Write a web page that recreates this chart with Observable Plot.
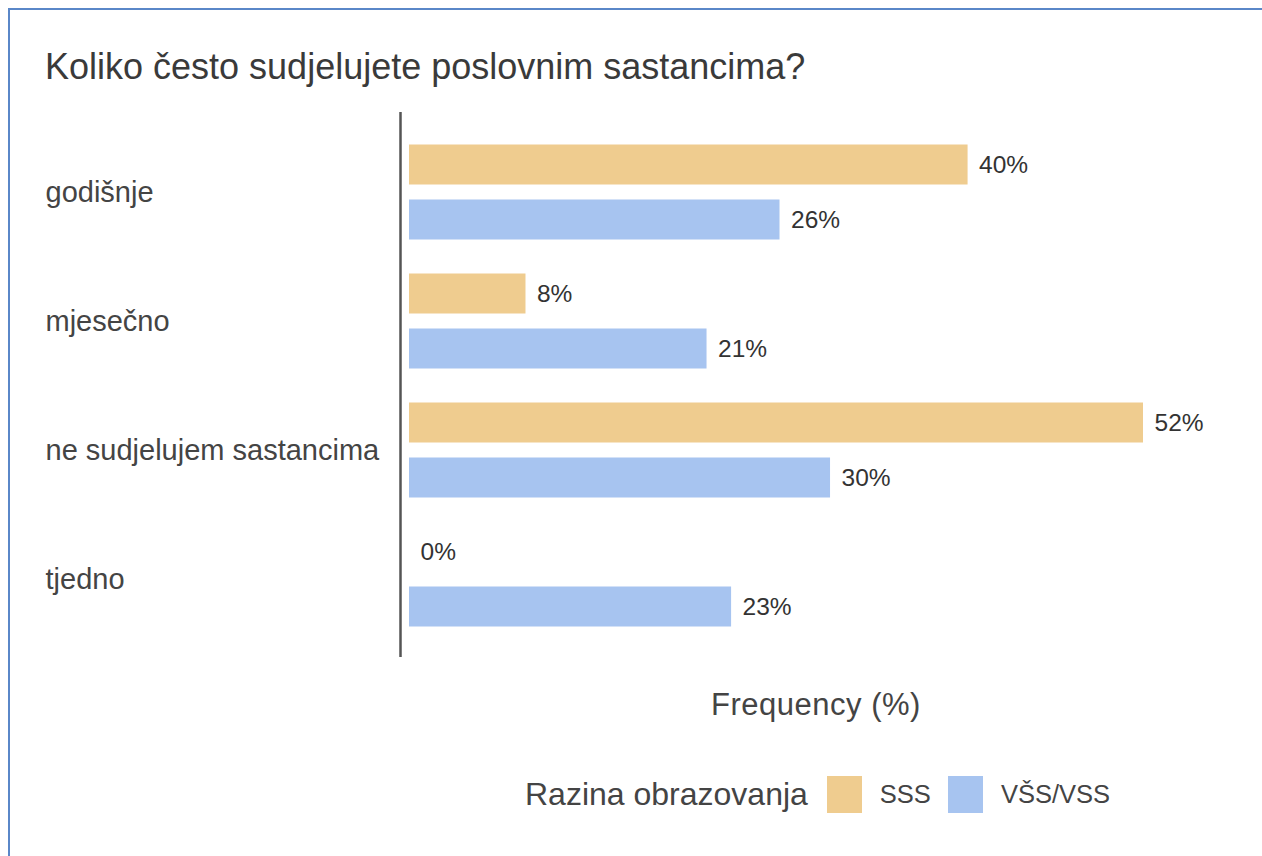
<!DOCTYPE html>
<html>
<head>
<meta charset="utf-8">
<script src="https://cdn.jsdelivr.net/npm/d3@7"></script>
<script src="https://cdn.jsdelivr.net/npm/@observablehq/plot@0.6"></script>
<style>
  html, body { margin: 0; padding: 0; background: #fff; }
  body { font-family: "Liberation Sans", Arial, sans-serif; }
  #page { position: relative; width: 1262px; height: 856px; overflow: hidden; background: #fff; }
  #border { position: absolute; left: 8px; top: 8px; width: 1300px; height: 900px;
            border-top: 2px solid #5a87c8; border-left: 2px solid #5a87c8; }
  #title { position: absolute; left: 45px; top: 44px; font-size: 36px; color: #3a3a3a; white-space: nowrap; line-height: 46px; }
  #chart { position: absolute; left: 0; top: 0; }
  #xlabel { position: absolute; left: 516px; width: 600px; top: 685px; text-align: center;
            font-size: 31px; color: #444; line-height: 40px; letter-spacing: 0.5px; }
  #legend { position: absolute; left: 525px; top: 775px; height: 38px; display: flex; align-items: center;
            color: #444; white-space: nowrap; }
  #legend .ltitle { font-size: 32px; margin-right: 19px; }
  #legend .sw { width: 35px; height: 37px; margin-right: 18px; flex: none; }
  #legend .item { font-size: 25.5px; margin-right: 17px; }
</style>
</head>
<body>
<div id="page">
  <div id="border"></div>
  <div id="title"></div>
  <div id="chart"></div>
  <div id="xlabel"></div>
  <div id="legend"></div>
</div>
<script>
const titleText = "Koliko često sudjelujete poslovnim sastancima?";
const categories = ["godišnje", "mjesečno", "ne sudjelujem sastancima", "tjedno"];
const seriesNames = ["SSS", "VŠS/VSS"];
const sssValues = [39.8, 8.3, 52.3, 0];
const vssValues = [26.4, 21.2, 30.0, 22.95];
const seriesColors = ["#efcc8f", "#a7c4f0"];
const xLabel = "Frequency (%)";
const legendTitle = "Razina obrazovanja";

const sss = categories.map((c, i) => ({category: c, value: sssValues[i]}));
const vss = categories.map((c, i) => ({category: c, value: vssValues[i]}));
const fmt = d => Math.round(d.value) + "%";

const chart = Plot.plot({
  width: 1262,
  height: 680,
  marginLeft: 400,
  marginRight: 39,
  marginTop: 112,
  marginBottom: 23,
  style: {fontFamily: '"Liberation Sans", Arial, sans-serif', background: "transparent", overflow: "visible"},
  x: {domain: [0, 58], insetLeft: 9, axis: null},
  y: {domain: categories, paddingInner: 0, paddingOuter: 0.0962, axis: null},
  marks: [
    Plot.axisY({tickSize: 0, tickPadding: 0, textAnchor: "start", dx: -355, dy: 1, fontSize: 29, fill: "#444", label: null}),
    Plot.barX(sss, {x: "value", y: "category", fill: seriesColors[0], insetTop: 17.5, insetBottom: 71.5}),
    Plot.barX(vss, {x: "value", y: "category", fill: seriesColors[1], insetTop: 72.5, insetBottom: 16.5}),
    Plot.text(sss, {x: "value", y: "category", text: fmt, dx: 11, dy: -27, textAnchor: "start", fontSize: 24.5, fill: "#333"}),
    Plot.text(vss, {x: "value", y: "category", text: fmt, dx: 11, dy: 28, textAnchor: "start", fontSize: 24.5, fill: "#333"}),
    Plot.ruleX([0], {dx: -9, stroke: "#555", strokeWidth: 2.5})
  ]
});
document.getElementById("chart").appendChild(chart);
document.getElementById("title").textContent = titleText;
document.getElementById("xlabel").textContent = xLabel;

const legend = document.getElementById("legend");
const lt = document.createElement("span");
lt.className = "ltitle"; lt.textContent = legendTitle;
legend.appendChild(lt);
seriesNames.forEach((name, i) => {
  const sw = document.createElement("span");
  sw.className = "sw"; sw.style.background = seriesColors[i];
  legend.appendChild(sw);
  const it = document.createElement("span");
  it.className = "item"; it.textContent = name;
  legend.appendChild(it);
});
</script>
</body>
</html>
